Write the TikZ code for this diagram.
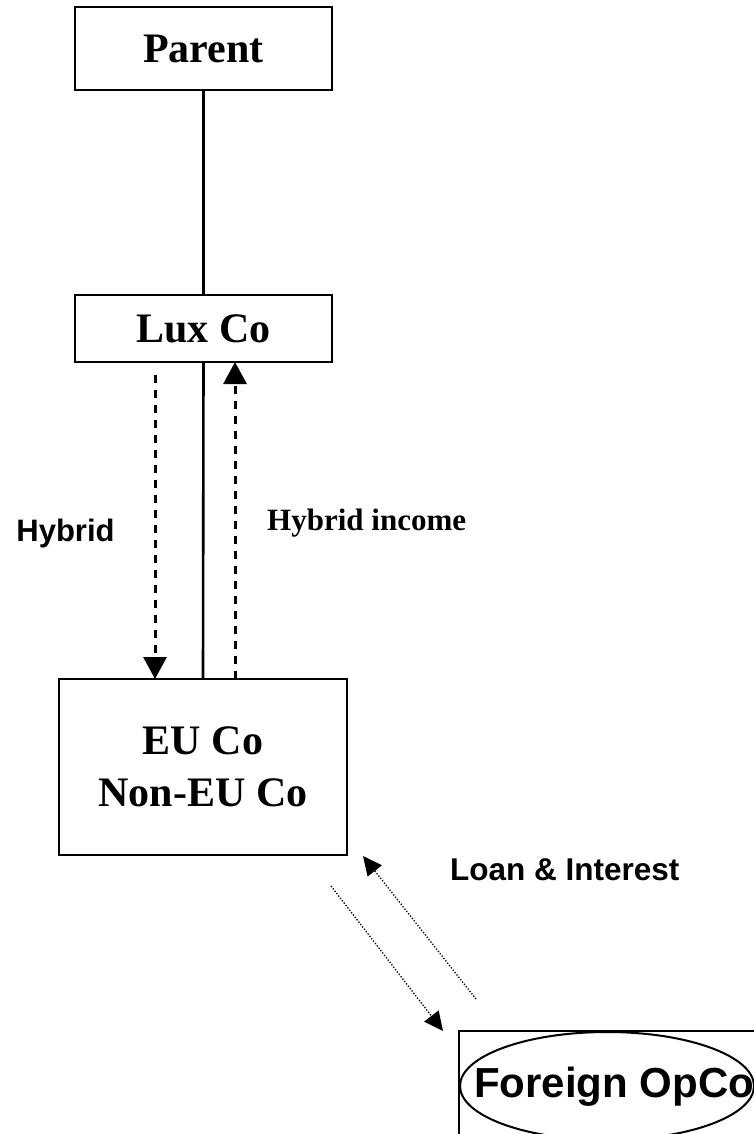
\documentclass[tikz,border=0pt]{standalone}
\usepackage{fontspec}
\setmainfont{Liberation Serif}
\setsansfont{Liberation Sans}
\usepackage{tikz}
\usetikzlibrary{shapes,arrows.meta,positioning,calc}

\begin{document}
\begin{tikzpicture}[
    x=1pt, y=1pt,
    entity/.style={rectangle, draw, line width=2pt, inner sep=0pt, outer sep=0pt,
        font=\fontsize{42}{52}\selectfont\bfseries, align=center},
    owns/.style={line width=2.6pt},
    hybridflow/.style={line width=3pt, dash pattern=on 8pt off 7pt,
        -{Triangle[length=22pt,width=23pt]}},
    loanflow/.style={line width=1.3pt, dash pattern=on 1.3pt off 1.7pt,
        -{Triangle[length=19pt,width=18pt]}},
    tag/.style={font=\fontsize{31}{36}\selectfont\bfseries, inner sep=0pt}
]
    \useasboundingbox (0,0) rectangle (754,-1134);

    % companies
    \node[entity, minimum width=257pt, minimum height=83pt] (parent) at (203.5,-48.5) {Parent};
    \node[entity, minimum width=257pt, minimum height=67pt] (lux) at (203.5,-328.5) {Lux Co};
    \node[entity, minimum width=288pt, minimum height=176pt] (eu) at (203,-767) {EU Co\\Non-EU Co};
    \node[entity, minimum width=321pt, minimum height=129pt] (opbox) at (619.5,-1095.5) {};
    \node[ellipse, draw, line width=2pt, minimum width=294pt, minimum height=108pt,
        inner sep=0pt] (opco) at (607,-1086) {};
    \node[font=\sffamily\fontsize{42}{48}\selectfont\bfseries, inner sep=0pt]
        (opname) at (614,-1087) {Foreign OpCo};

    % ownership
    \draw[owns] (parent.south) -- (lux.north);
    \draw[owns] (lux.south) -- (eu.north);

    % hybrid
    \draw[hybridflow] ([xshift=-48.5pt,yshift=-13pt]lux.south) -- ([xshift=-48pt]eu.north);
    \draw[hybridflow] ([xshift=32pt]eu.north) -- ([xshift=31.5pt]lux.south);
    \node[tag, font=\sffamily\fontsize{31}{36}\selectfont\bfseries] (hyb) at (65.5,-533) {Hybrid};
    \node[tag, anchor=west] (hybinc) at (267,-523) {Hybrid income};

    % loan
    \draw[loanflow] ([xshift=17pt,yshift=32pt]opbox.north west) -- ([xshift=16pt,yshift=-1pt]eu.south east);
    \draw[loanflow] ([xshift=-16pt,yshift=-31pt]eu.south east) -- ([xshift=-16pt]opbox.north west);
    \node[tag, font=\sffamily\fontsize{31.5}{36}\selectfont\bfseries, anchor=west] (loan) at (450,-870) {Loan \& Interest};
\end{tikzpicture}
\end{document}
